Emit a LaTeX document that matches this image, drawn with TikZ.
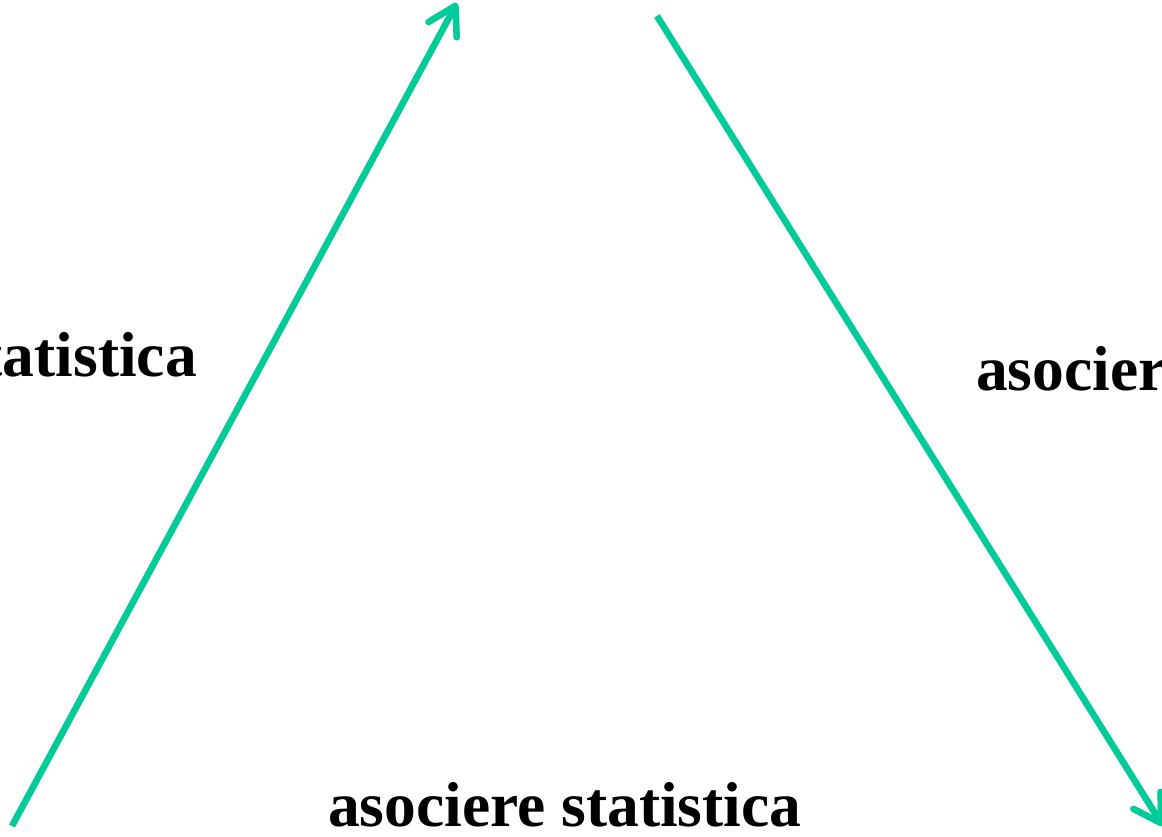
\documentclass[tikz,border=0pt]{standalone}
\usepackage{fontspec}
\setmainfont{Liberation Serif}
\usetikzlibrary{arrows.meta}
\definecolor{arrowgreen}{HTML}{00CC99}
\definecolor{shadowgray}{HTML}{C8C8C8}
\tikzset{
  greenarrow/.style={draw=arrowgreen, line width=6.5pt, -{Straight Barb[round,length=27pt,width=32pt]}},
  shadowarrow/.style={draw=shadowgray, line width=6.5pt, -{Straight Barb[round,length=27pt,width=32pt]}, shift={(1.8pt,-1.8pt)}},
  label/.style={inner sep=0pt, font=\bfseries\fontsize{63.5}{70}\selectfont}
}
\begin{document}
\begin{tikzpicture}[x=1pt,y=-1pt]
\useasboundingbox (0,0) rectangle (1162,836);
\fill[white] (0,0) rectangle (1162,836);
\coordinate (lstart) at (12,826);
\coordinate (ltip) at (457,3);
\coordinate (rstart) at (657,16);
\coordinate (rtip) at (1163,826);
\draw[shadowarrow] (lstart) -- (ltip);
\draw[shadowarrow] (rstart) -- (rtip);
\draw[greenarrow] (lstart) -- (ltip);
\draw[greenarrow] (rstart) -- (rtip);
\node[label, anchor=base east] (ltext) at (197,376) {statistica};
\node[label, anchor=base west] (rtext) at (976,390) {asociere};
\node[label, anchor=base west] (btext) at (328,826) {asociere statistica};
\end{tikzpicture}
\end{document}
